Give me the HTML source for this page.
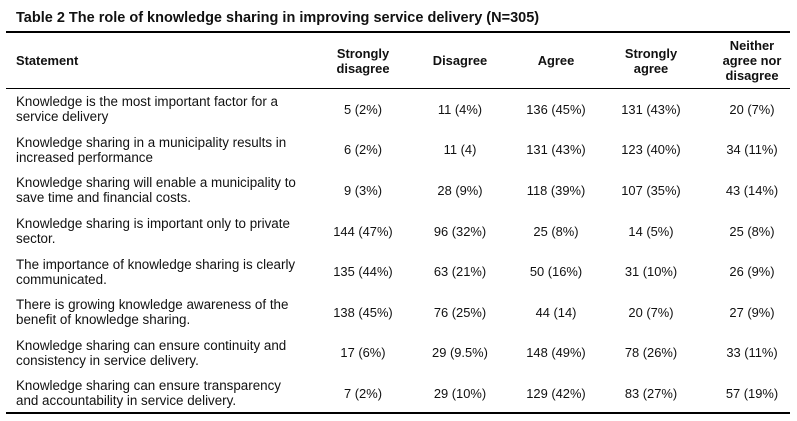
<!DOCTYPE html>
<html><head><meta charset="utf-8"><style>
body{margin:0;width:797px;height:421px;background:#fff;font-family:"Liberation Sans",Arial,sans-serif;color:#111;position:relative;overflow:hidden}
.t{position:absolute;left:16px;top:10px;font-size:14.5px;font-weight:bold}
.ln{position:absolute;left:6px;width:784px;background:#000}
.c{position:absolute;font-size:12.9px;line-height:15px;display:flex;align-items:center}
.s{font-size:13.4px}
.h{font-weight:bold;justify-content:center;text-align:center}
.v{justify-content:center;text-align:center}
</style></head><body>
<div class="t">Table 2 The role of knowledge sharing in improving service delivery (N=305)</div>
<div class="ln" style="top:31px;height:2px"></div>
<div class="ln" style="top:88px;height:1px"></div>
<div class="ln" style="top:412px;height:2px"></div>
<div id="tbl"></div>
<script>
const headers=["Strongly<br>disagree","Disagree","Agree","Strongly<br>agree","Neither<br>agree nor<br>disagree"];
const statements=["Knowledge is the most important factor for a<br>service delivery","Knowledge sharing in a municipality results in<br>increased performance","Knowledge sharing will enable a municipality to<br>save time and financial costs.","Knowledge sharing is important only to private<br>sector.","The importance of knowledge sharing is clearly<br>communicated.","There is growing knowledge awareness of the<br>benefit of knowledge sharing.","Knowledge sharing can ensure continuity and<br>consistency in service delivery.","Knowledge sharing can ensure transparency<br>and accountability in service delivery."];
const values=[["5 (2%)","11 (4%)","136 (45%)","131 (43%)","20 (7%)"],["6 (2%)","11 (4)","131 (43%)","123 (40%)","34 (11%)"],["9 (3%)","28 (9%)","118 (39%)","107 (35%)","43 (14%)"],["144 (47%)","96 (32%)","25 (8%)","14 (5%)","25 (8%)"],["135 (44%)","63 (21%)","50 (16%)","31 (10%)","26 (9%)"],["138 (45%)","76 (25%)","44 (14)","20 (7%)","27 (9%)"],["17 (6%)","29 (9.5%)","148 (49%)","78 (26%)","33 (11%)"],["7 (2%)","29 (10%)","129 (42%)","83 (27%)","57 (19%)"]];
const tbl=document.getElementById('tbl');
const cx=[363,460,556,651,752];
function cell(html,cls,l,t,w,h,name){const d=document.createElement('div');d.className='c '+cls;d.innerHTML=html;d.style.left=l+'px';d.style.top=t+'px';d.style.width=w+'px';d.style.height=h+'px';


tbl.appendChild(d);}
cell('Statement','h',16,33,100,55,'header-statement');tbl.lastChild.style.justifyContent='flex-start';
headers.forEach((h,i)=>cell(h,'h',cx[i]-50,33,100,55,'header-col-'+(i+1)));
const rh=40.6;
statements.forEach((s,r)=>{const t=89+r*rh;cell(s,'s',16,t,310,rh,'statement-row-'+(r+1));
values[r].forEach((v,i)=>cell(v,'v',cx[i]-50,t,100,rh,'value-r'+(r+1)+'-c'+(i+1)));});
</script>
</body></html>
